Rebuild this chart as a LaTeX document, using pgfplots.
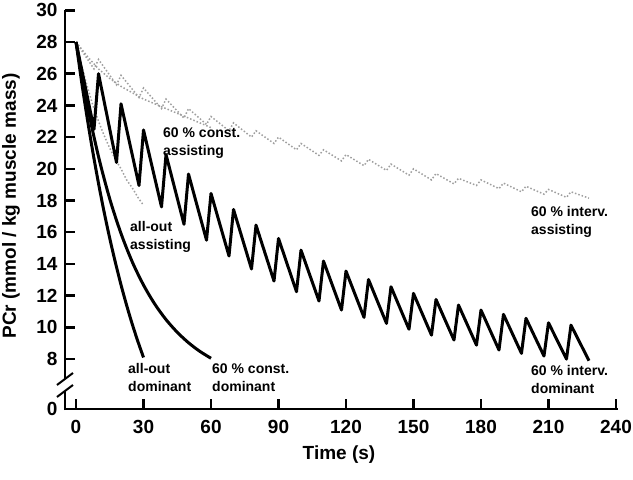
\documentclass[border=0pt]{standalone}
\usepackage{fontspec}
\setmainfont{Liberation Sans}
\usepackage{pgfplots}
\pgfplotsset{compat=1.18}
\newcommand{\lf}{\fontsize{14}{17}\selectfont\bfseries}
\newcommand{\lab}[4]{%
  \node[anchor=base west, inner sep=0pt, font=\lf] at (#1pt,#2pt) {#3};
  \node[anchor=base west, inner sep=0pt, font=\lf] at (#1pt,#2pt-18pt) {#4};}
\begin{document}
\begin{tikzpicture}
\useasboundingbox (-65pt,-71pt) rectangle (568pt,409pt);
\begin{axis}[
  at={(0pt,0pt)}, anchor=south west,
  scale only axis, width=553pt, height=398.7pt,
  xmin=-4.9, xmax=240.9, ymin=4.85, ymax=30,
  axis x line*=bottom, axis y line*=left,
  x axis line style={-, line width=2.5pt},
  y axis line style={draw=none},
  tick align=inside, major tick length=10pt,
  tick style={line width=2.5pt, black},
  xtick={0,30,...,240}, ytick={8,10,...,30},
  extra y ticks={4.85}, extra y tick labels={0},
  extra y tick style={major tick length=0pt},
  ticklabel style={font=\fontsize{19}{22}\selectfont\bfseries},
  /pgf/number format/assume math mode=true,
  xticklabel style={yshift=-8pt}, yticklabel style={xshift=-4pt},
]
% assisting (grey dotted)
\addplot[gray!75, dotted, line width=1.5pt] coordinates {
(0,28) (8,26.3) (10,26.9) (18,25.3) (20,25.9) (28,24.5) (30,25.1) (38,23.8) (40,24.4)
(48,23.2) (50,23.8) (58,22.8) (60,23.3) (68,22.4) (70,22.9) (78,22.0) (80,22.4)
(88,21.6) (90,22.0) (98,21.2) (100,21.6) (108,20.85) (110,21.2) (118,20.5) (120,20.9)
(128,20.2) (130,20.6) (138,19.9) (140,20.3) (148,19.6) (150,20.0) (158,19.3) (160,19.7)
(168,19.05) (170,19.4) (178,18.95) (180,19.3) (188,18.75) (190,19.1) (198,18.55) (200,18.9)
(208,18.4) (210,18.7) (218,18.2) (220,18.55) (228,18.15)};
\addplot[gray!75, dotted, line width=1.5pt] coordinates {
(0,28) (5,27.1) (10,26.3) (15,25.7) (20,25.2) (25,24.8) (30,24.4) (35,24.1) (40,23.8)
(45,23.5) (50,23.2) (55,22.9) (60,22.6)};
\addplot[gray!75, dotted, line width=1.5pt] coordinates {
(0,28) (2.5,26.5) (5,25.2) (7.5,24.0) (10,23.0) (12.5,22.1) (15,21.3) (17.5,20.6)
(20,20.0) (22.5,19.3) (25,18.8) (27.5,18.2) (30,17.7)};
% dominant (black)
\addplot[black, line width=3pt, line join=round] coordinates {
(0,28) (8,22.5) (10,26.0) (18,20.4) (20,24.1) (28,18.95) (30,22.45) (38,17.6) (40,20.9)
(48,16.5) (50,19.67) (58,15.5) (60,18.45) (68,14.5) (70,17.44) (78,13.68) (80,16.45)
(88,12.92) (90,15.61) (98,12.25) (100,14.87) (108,11.66) (110,14.18) (118,11.09) (120,13.55)
(128,10.63) (130,13.02) (138,10.25) (140,12.56) (148,9.88) (150,12.14) (158,9.51) (160,11.76)
(168,9.2) (170,11.41) (178,8.88) (180,11.09) (188,8.57) (190,10.82) (198,8.36) (200,10.57)
(208,8.19) (210,10.29) (218,8.0) (220,10.14) (228,7.9)};
\addplot[black, line width=3pt, smooth] coordinates {
(0,28) (5,24.02) (10,20.77) (15,18.10) (20,15.92) (25,14.13) (30,12.67) (35,11.47)
(40,10.49) (45,9.69) (50,9.03) (55,8.49) (60,8.05)};
\addplot[black, line width=3pt, smooth] coordinates {
(0,28) (2.5,25.48) (5,23.17) (7.5,21.04) (10,19.08) (12.5,17.27) (15,15.61) (17.5,14.09)
(20,12.68) (22.5,11.39) (25,10.20) (27.5,9.11) (30,8.1)};
\end{axis}
% broken y axis
\draw[line width=2.5pt] (0pt,-1.25pt) -- (0pt,18pt);
\draw[line width=2.5pt] (0pt,30pt) -- (0pt,398.7pt);
\draw[line width=2pt] (-8pt,12pt) -- (8pt,24pt);
\draw[line width=2pt] (-8pt,24pt) -- (8pt,36pt);
% labels
\node[font=\fontsize{19}{22}\selectfont\bfseries] at (274pt,-46pt) {Time (s)};
\node[rotate=90, font=\fontsize{19}{22}\selectfont\bfseries] at (-54pt,203pt) {PCr (mmol / kg muscle mass)};
\lab{98}{271}{60 \% const.}{assisting}
\lab{65}{177}{all-out}{assisting}
\lab{63}{35}{all-out}{dominant}
\lab{147}{35}{60 \% const.}{dominant}
\lab{466}{192}{60 \% interv.}{assisting}
\lab{466}{33}{60 \% interv.}{dominant}
\end{tikzpicture}
\end{document}
